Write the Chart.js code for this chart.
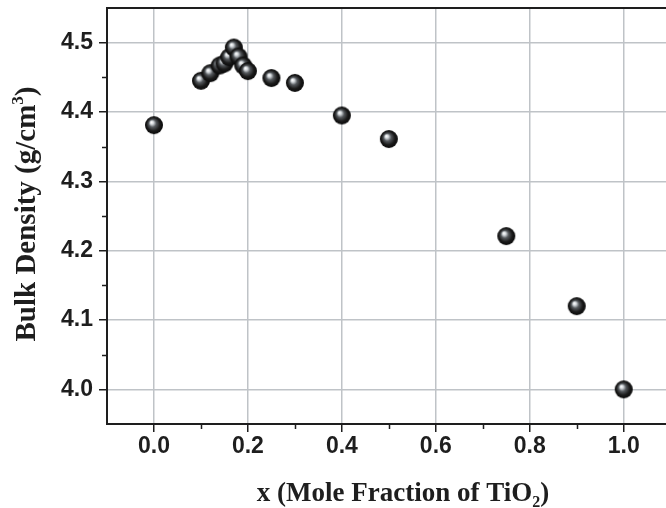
<!DOCTYPE html>
<html>
<head>
<meta charset="utf-8">
<script src="https://cdn.jsdelivr.net/npm/chart.js@4/dist/chart.umd.min.js"></script>
<style>
  html, body { margin: 0; padding: 0; background: #fff; }
  #wrap { width: 666px; height: 508px; }
</style>
</head>
<body>
<div id="wrap"><canvas id="density" width="666" height="508"></canvas></div>
<script>
// mole fraction of TiO2 and measured bulk density (g/cm3)
const moleFraction = [0, 0.10, 0.12, 0.14, 0.15, 0.16, 0.17, 0.18, 0.19, 0.20, 0.25, 0.30, 0.40, 0.50, 0.75, 0.90, 1.00];
const bulkDensity  = [4.381, 4.445, 4.456, 4.467, 4.470, 4.479, 4.493, 4.480, 4.467, 4.459, 4.449, 4.442, 4.395, 4.361, 4.221, 4.120, 4.000];

const xMajorTicks = [0, 0.2, 0.4, 0.6, 0.8, 1.0];
const xMinorTicks = [0.1, 0.3, 0.5, 0.7, 0.9];
const yMajorTicks = [4.0, 4.1, 4.2, 4.3, 4.4, 4.5];
const yMinorTicks = [4.05, 4.15, 4.25, 4.35, 4.45];

const INK = '#1e1e1e';
const GRID = '#bfc3c7';

// shaded ball used as the point marker
function makeBall(r) {
  const c = document.createElement('canvas');
  c.width = c.height = r * 2 + 2;
  const g = c.getContext('2d');
  const m = r + 1;
  const grad = g.createRadialGradient(m - 2.5, m - 3, 0.3, m, m, r);
  grad.addColorStop(0, '#ffffff');
  grad.addColorStop(0.16, '#d3d8dc');
  grad.addColorStop(0.4, '#55595d');
  grad.addColorStop(0.72, '#1b1b1b');
  grad.addColorStop(1, '#080808');
  g.fillStyle = grad;
  g.beginPath();
  g.arc(m, m, r, 0, Math.PI * 2);
  g.fill();
  return c;
}
const ball = makeBall(9);

const framePlugin = {
  id: 'frame',
  afterDraw(chart) {
    const ctx = chart.ctx;
    const a = chart.chartArea;
    const xs = chart.scales.x, ys = chart.scales.y;
    ctx.save();
    ctx.strokeStyle = INK;
    ctx.lineWidth = 2;
    ctx.beginPath();
    ctx.moveTo(a.left - 1, a.top);
    ctx.lineTo(a.right, a.top);
    ctx.stroke();
    ctx.lineWidth = 1.5;
    ctx.beginPath();
    xMinorTicks.forEach(v => {
      const px = Math.round(xs.getPixelForValue(v)) + 0.5;
      ctx.moveTo(px, a.bottom);
      ctx.lineTo(px, a.bottom + 5);
    });
    yMinorTicks.forEach(v => {
      const py = Math.round(ys.getPixelForValue(v)) + 0.5;
      ctx.moveTo(a.left, py);
      ctx.lineTo(a.left - 5, py);
    });
    ctx.stroke();

    // axis titles
    ctx.fillStyle = INK;
    ctx.textBaseline = 'alphabetic';

    // x title with subscript
    const xParts = [['x (Mole Fraction of TiO', 'bold 27px "Liberation Serif"', 0],
                    ['2', 'bold 16px "Liberation Serif"', 6],
                    [')', 'bold 27px "Liberation Serif"', 0]];
    let w = 0;
    xParts.forEach(p => { ctx.font = p[1]; w += ctx.measureText(p[0]).width; });
    let cx = 403 - w / 2;
    const xBase = 501;
    xParts.forEach(p => {
      ctx.font = p[1];
      ctx.fillText(p[0], cx, xBase + p[2]);
      cx += ctx.measureText(p[0]).width;
    });

    // y title with superscript, rotated
    const yParts = [['Bulk Density (g/cm', 'bold 29px "Liberation Serif"', 0],
                    ['3', 'bold 17px "Liberation Serif"', -12],
                    [')', 'bold 29px "Liberation Serif"', 0]];
    w = 0;
    yParts.forEach(p => { ctx.font = p[1]; w += ctx.measureText(p[0]).width; });
    ctx.translate(35, 214);
    ctx.rotate(-Math.PI / 2);
    let cy = -w / 2;
    yParts.forEach(p => {
      ctx.font = p[1];
      ctx.fillText(p[0], cy, p[2]);
      cy += ctx.measureText(p[0]).width;
    });
    ctx.restore();
  }
};

new Chart(document.getElementById('density'), {
  type: 'scatter',
  data: {
    datasets: [{
      label: 'Bulk density',
      data: moleFraction.map((x, i) => ({ x: x, y: bulkDensity[i] })),
      pointStyle: ball,
      pointRadius: 9,
      pointHoverRadius: 9
    }]
  },
  options: {
    responsive: false,
    animation: false,
    events: [],
    layout: { autoPadding: false, padding: { top: 8, right: 0, left: 0, bottom: 0 } },
    plugins: { legend: { display: false }, tooltip: { enabled: false } },
    scales: {
      x: {
        type: 'linear',
        min: -0.1,
        max: 1.09,
        afterBuildTicks: s => { s.ticks = xMajorTicks.map(v => ({ value: v })); },
        afterFit: s => { s.height = 84; s.paddingLeft = 0; s.paddingRight = 0; },
        grid: { color: GRID, lineWidth: 1.5, drawTicks: true, tickLength: 8, tickColor: INK, tickWidth: 1.5 },
        border: { display: true, color: INK, width: 2 },
        ticks: {
          padding: 1,
          color: INK,
          maxRotation: 0,
          font: { family: '"Liberation Sans"', size: 23, weight: 'bold' },
          callback: v => v.toFixed(1)
        }
      },
      y: {
        type: 'linear',
        min: 3.95,
        max: 4.55,
        afterBuildTicks: s => { s.ticks = yMajorTicks.map(v => ({ value: v })); },
        afterFit: s => { s.width = 107; s.paddingTop = 0; s.paddingBottom = 0; },
        grid: { color: GRID, lineWidth: 1.5, drawTicks: true, tickLength: 8, tickColor: INK, tickWidth: 1.5 },
        border: { display: true, color: INK, width: 2 },
        ticks: {
          padding: 6,
          color: INK,
          font: { family: '"Liberation Sans"', size: 23, weight: 'bold' },
          callback: v => v.toFixed(1)
        }
      }
    }
  },
  plugins: [framePlugin]
});
</script>
</body>
</html>
